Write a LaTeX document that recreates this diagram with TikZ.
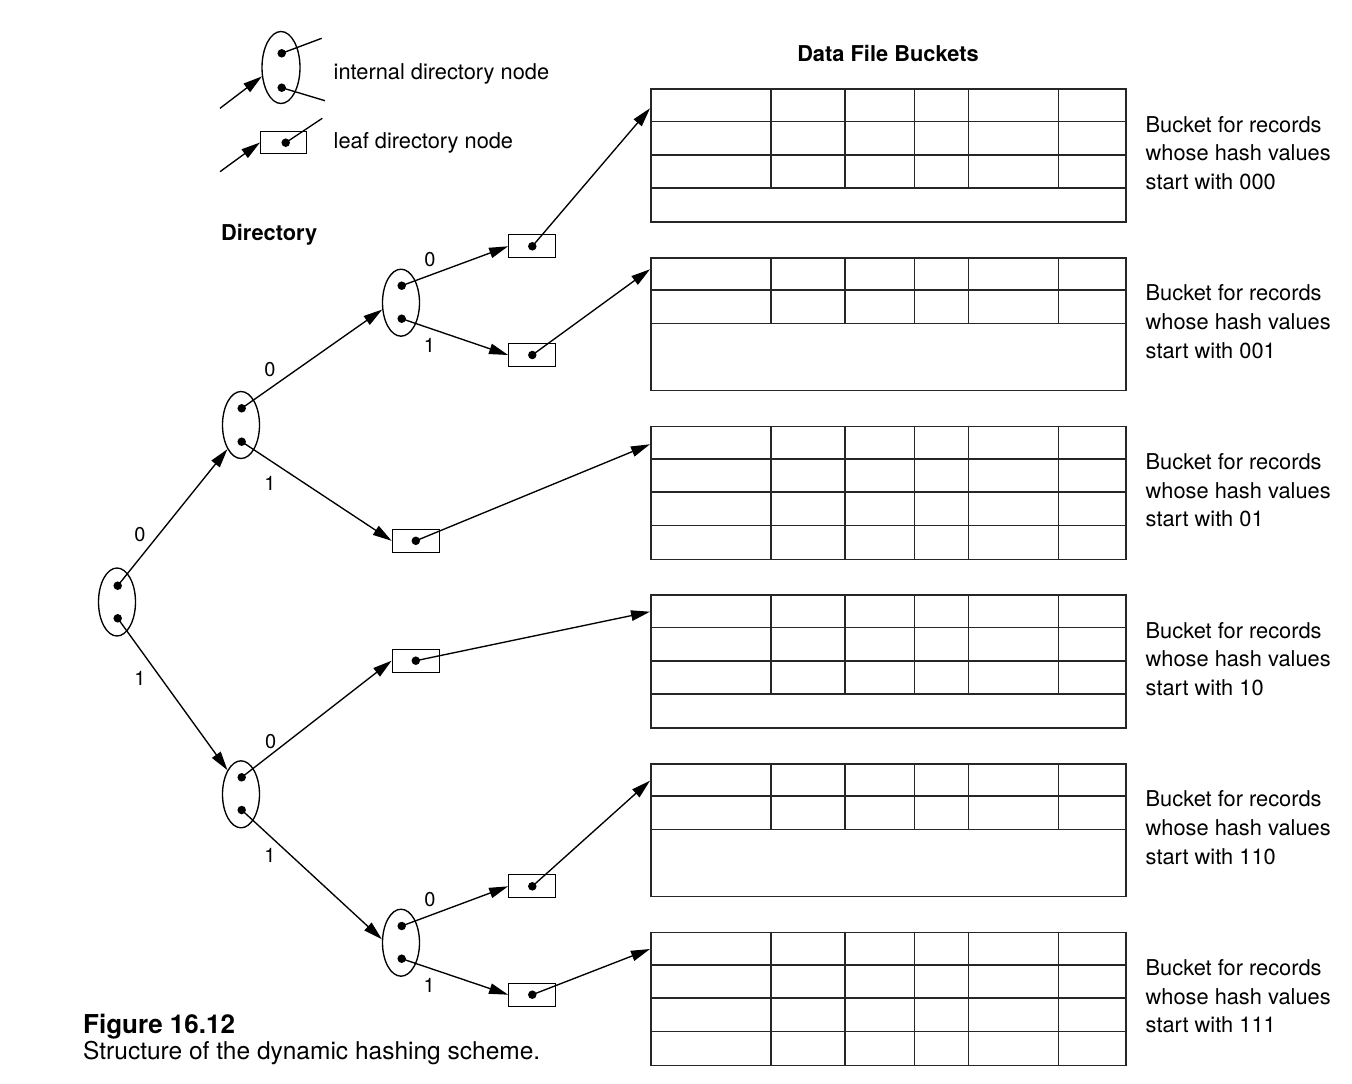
\documentclass[tikz,border=0pt]{standalone}
\usepackage{fontspec}
\setmainfont{TeX Gyre Heros}
\usetikzlibrary{arrows.meta,shapes.geometric,calc}
\newcommand{\mybucket}[3]{%
  \node[bucketbox] (#1) at (650,#2) {};
  \foreach \k in {1,...,#3} {\ifnum\k<4 \draw[gridline] (650,#2+33.2*\k) -- (1125,#2+33.2*\k);\fi}
  \foreach \xx in {770.7,844.7,914.3,968.3,1058.3} {\draw[gridline] (\xx,#2) -- (\xx,#2+33.2*#3);}
}
\begin{document}
\begin{tikzpicture}[x=1pt,y=-1pt,line width=1.35pt,
  inode/.style={draw,ellipse,minimum width=37pt,minimum height=67pt,inner sep=0pt},
  leafnode/.style={draw,rectangle,minimum width=47pt,minimum height=23pt,inner sep=0pt},
  dotnode/.style={circle,fill,inner sep=0pt,minimum size=8.5pt},
  conn/.style={-{Triangle[length=19pt,width=10.5pt]}},
  lbl/.style={font=\fontsize{20}{20}\selectfont,inner sep=0pt},
  txt/.style={font=\fontsize{21.8}{28.6}\selectfont,inner sep=0pt},
  boldtxt/.style={font=\fontsize{21.8}{26}\selectfont\bfseries,inner sep=0pt},
  gridline/.style={line width=1.6pt,draw=black!85},
  bucketbox/.style={draw=black!85,line width=1.6pt,rectangle,minimum width=475pt,minimum height=132.8pt,anchor=north west,inner sep=0pt},
]
\useasboundingbox[fill=white] (0,0) rectangle (1352,1084);

% ---------- legend ----------
\node[inode,minimum width=38pt,minimum height=72pt] (LI) at (281,67.5) {};
\node[dotnode] (LI0) at (281.7,53.3) {};
\node[dotnode] (LI1) at (281.7,87.7) {};
\coordinate (LIa) at (321.7,38.3);
\coordinate (LIb) at (325,100.7);
\coordinate (LIin) at (220,108.3);
\draw (LI0.center) -- (LIa);
\draw (LI1.center) -- (LIb);
\draw[conn] (LIin) -- (LI.205);
\node[txt,anchor=base west] (LIt) at (333,79.3) {internal directory node};

\node[leafnode,minimum width=46pt,minimum height=21.6pt] (LL) at (283.7,142.5) {};
\node[dotnode] (LLd) at (285.7,142.7) {};
\coordinate (LLa) at (322.3,118.3);
\coordinate (LLin) at (220,171.7);
\draw (LLd.center) -- (LLa);
\draw[conn] (LLin) -- (LL.west);
\node[txt,anchor=base west] (LLt) at (333,148.3) {leaf directory node};

\node[boldtxt,anchor=base west] (dirt) at (220.5,240.7) {Directory};
\node[boldtxt,anchor=base] (dfb) at (888,61.7) {Data File Buckets};

% ---------- directory tree ----------
\node[inode,minimum height=68pt] (R) at (117,602) {};
\node[dotnode] (R0) at (117.7,585.7) {};
\node[dotnode] (R1) at (117.7,618.3) {};

\node[inode] (A) at (241,425) {};
\node[dotnode] (A0) at (241.7,408.3) {};
\node[dotnode] (A1) at (241.7,441.7) {};

\node[inode] (B) at (401,302.7) {};
\node[dotnode] (B0) at (401.7,285.7) {};
\node[dotnode] (B1) at (401.7,318.7) {};

\node[inode] (C) at (241,794.3) {};
\node[dotnode] (C0) at (241.7,777.3) {};
\node[dotnode] (C1) at (241.7,810) {};

\node[inode] (D) at (401,942.7) {};
\node[dotnode] (D0) at (401.7,926) {};
\node[dotnode] (D1) at (401.7,958.7) {};

\node[leafnode] (L000) at (532.3,246.3) {};
\node[dotnode] (L000d) at (532.3,246.3) {};
\node[leafnode] (L001) at (532.3,355) {};
\node[dotnode] (L001d) at (532.3,355) {};
\node[leafnode] (L01) at (415.8,540.8) {};
\node[dotnode] (L01d) at (415.8,540.8) {};
\node[leafnode] (L10) at (415.8,660.7) {};
\node[dotnode] (L10d) at (415.8,660.7) {};
\node[leafnode] (L110) at (532.3,886.3) {};
\node[dotnode] (L110d) at (532.3,886.3) {};
\node[leafnode] (L111) at (532.3,994.7) {};
\node[dotnode] (L111d) at (532.3,994.7) {};

\draw[conn] (R0.center) -- (A.south west);
\draw[conn] (R1.center) -- (C.north west);
\draw[conn] (A0.center) -- (B.200);
\draw[conn] (A1.center) -- (L01.west);
\draw[conn] (B0.center) -- (L000.west);
\draw[conn] (B1.center) -- (L001.west);
\draw[conn] (C0.center) -- (L10.west);
\draw[conn] (C1.center) -- (D.170);
\draw[conn] (D0.center) -- (L110.west);
\draw[conn] (D1.center) -- (L111.west);

\node[lbl] (lR0) at (140,535) {0};
\node[lbl] (lR1) at (140,678.3) {1};
\node[lbl] (lA0) at (270,370) {0};
\node[lbl] (lA1) at (270,483.3) {1};
\node[lbl] (lB0) at (430,260) {0};
\node[lbl] (lB1) at (429.5,345) {1};
\node[lbl] (lC0) at (270.7,741.7) {0};
\node[lbl] (lC1) at (270,855) {1};
\node[lbl] (lD0) at (430,900) {0};
\node[lbl] (lD1) at (429.3,985) {1};

% ---------- buckets ----------
\mybucket{K1}{88.3}{3}
\mybucket{K2}{257}{2}
\mybucket{K3}{425.7}{4}
\mybucket{K4}{594.3}{3}
\mybucket{K5}{763}{2}
\mybucket{K6}{931.7}{4}

\draw[conn] (L000d.center) -- ($(K1.north west)+(0,20)$);
\draw[conn] (L001d.center) -- ($(K2.north west)+(0,12.3)$);
\draw[conn] (L01d.center) -- ($(K3.north west)+(0,18.6)$);
\draw[conn] (L10d.center) -- ($(K4.north west)+(0,17.4)$);
\draw[conn] (L110d.center) -- ($(K5.north west)+(0,17.7)$);
\draw[conn] (L111d.center) -- ($(K6.north west)+(0,17.3)$);

\node[txt,align=left,anchor=north west] (T1) at (1145,115.6) {Bucket for records\\whose hash values\\start with 000};
\node[txt,align=left,anchor=north west] (T2) at (1145,284.3) {Bucket for records\\whose hash values\\start with 001};
\node[txt,align=left,anchor=north west] (T3) at (1145,453) {Bucket for records\\whose hash values\\start with 01};
\node[txt,align=left,anchor=north west] (T4) at (1145,621.6) {Bucket for records\\whose hash values\\start with 10};
\node[txt,align=left,anchor=north west] (T5) at (1145,790.3) {Bucket for records\\whose hash values\\start with 110};
\node[txt,align=left,anchor=north west] (T6) at (1145,959) {Bucket for records\\whose hash values\\start with 111};

% ---------- caption ----------
\node[font=\fontsize{26}{30}\selectfont\bfseries,inner sep=0pt,anchor=base west] (cap1) at (82.5,1033.3) {Figure 16.12};
\node[font=\fontsize{24.5}{28}\selectfont,inner sep=0pt,anchor=base west] (cap2) at (82.5,1059.3) {Structure of the dynamic hashing scheme.};
\end{tikzpicture}
\end{document}
